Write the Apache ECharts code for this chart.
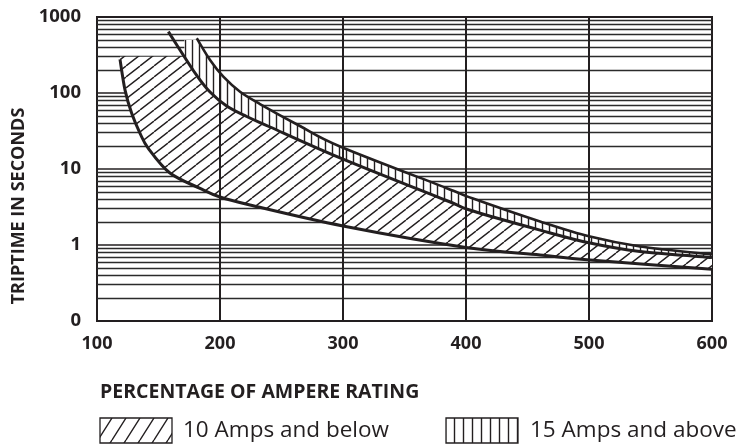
<!DOCTYPE html>
<html><head><meta charset="utf-8">
<script src="https://cdn.jsdelivr.net/npm/echarts@6/dist/echarts.min.js"></script>
<style>html,body{margin:0;padding:0;background:#fff}#c{width:743px;height:447px}</style>
</head><body><div id="c"></div>
<script>
// ---- data ----
const xTicks = [100, 200, 300, 400, 500, 600];
const xGridLines = [200, 300, 400, 500];
const yMin = 0.1, yMax = 1000;
const yTickLabels = { '0.1': '0', '1': '1', '10': '10', '100': '100', '1000': '1000' };
// lower boundary of the 10 A band  [% of rating, seconds]
const lowerCurve = [[118.7,277],[122.8,109],[128.2,54],[135,29.5],[141.7,18.7],[159.3,8.85],[183.7,5.57],[200,4.28],[224.4,3.36],[300,1.78],[400,0.93],[460.2,0.74],[500.8,0.635],[600,0.48]];
// middle curve (upper edge of 10 A band / lower edge of 15 A band)
const middleCurve = [[158,641],[171,300],[181.1,170],[191.9,103],[205.4,67.5],[221.7,49.1],[240.7,35.7],[297.6,14.0],[383,3.91],[405.7,2.80],[460.2,1.57],[500.8,1.06],[541.5,0.82],[600,0.685]];
// upper curve (upper edge of 15 A band)
const upperCurve = [[181.1,525],[191.9,272],[202.7,164],[216.3,104],[232.5,71.6],[265,36.8],[297.6,19.8],[382.9,5.71],[405.7,4.09],[460.2,2.04],[500.8,1.29],[541.5,0.955],[600,0.75]];
const cap10 = 300;   // top of hatched 10 A band (s)
const cap15 = 500;   // top of hatched 15 A band (s)
const legendNames = ['10 Amps and below', '15 Amps and above'];
const xTitle = 'PERCENTAGE OF AMPERE RATING';
const yTitle = 'TRIPTIME IN SECONDS';

const INK = '#231f20';
function makeTile(w, h, draw) {
  const c = document.createElement('canvas');
  c.width = w; c.height = h;
  const g = c.getContext('2d');
  g.fillStyle = '#fff'; g.fillRect(0, 0, w, h);
  g.strokeStyle = INK; g.lineWidth = 1.4;
  draw(g, w, h);
  return c;
}
function diagTile(w, h) {
  return makeTile(w, h, (g, w, h) => {
    g.beginPath();
    for (let k = -1; k <= 1; k++) { g.moveTo(k * w, h); g.lineTo(k * w + w, 0); }
    g.stroke();
  });
}
function vertTile(w) {
  return makeTile(w, 4, (g, w, h) => { g.beginPath(); g.moveTo(w / 2, 0); g.lineTo(w / 2, h); g.stroke(); });
}
const pat10 = { image: diagTile(14, 11), repeat: 'repeat' };
const pat15 = { image: vertTile(7), repeat: 'repeat' };
const legPat10 = { image: diagTile(14, 22), repeat: 'repeat' };
const legPat15 = { image: vertTile(9), repeat: 'repeat' };

function spline(pts) {
  let d = '';
  for (let i = 0; i < pts.length - 1; i++) {
    const p0 = pts[i - 1] || pts[i], p1 = pts[i], p2 = pts[i + 1], p3 = pts[i + 2] || p2;
    const c1 = [p1[0] + (p2[0] - p0[0]) / 6, p1[1] + (p2[1] - p0[1]) / 6];
    const c2 = [p2[0] - (p3[0] - p1[0]) / 6, p2[1] - (p3[1] - p1[1]) / 6];
    d += ' C' + c1[0] + ',' + c1[1] + ' ' + c2[0] + ',' + c2[1] + ' ' + p2[0] + ',' + p2[1];
  }
  return d;
}
const P = p => p[0] + ',' + p[1];

function renderBands(params, api) {
  const L = lowerCurve.map(p => api.coord(p));
  const A = middleCurve.map(p => api.coord(p));
  const B = upperCurve.map(p => api.coord(p));
  const capIdx = middleCurve.findIndex(p => p[1] === cap10);
  const Arev = A.slice(capIdx).reverse();
  const d10 = 'M' + P(api.coord([lowerCurve[0][0], cap10])) + ' L' + P(L[0]) + spline(L) +
              ' L' + P(Arev[0]) + spline(Arev) + ' Z';
  const d15 = 'M' + P(api.coord([middleCurve[capIdx][0], cap15])) + ' L' + P(api.coord([upperCurve[0][0], cap15])) +
              ' L' + P(B[0]) + spline(B) + ' L' + P(Arev[0]) + spline(Arev) + ' Z';
  const curve = (pts, w) => ({ type: 'path', shape: { pathData: 'M' + P(pts[0]) + spline(pts) },
                               style: { fill: null, stroke: INK, lineWidth: w } });
  return {
    type: 'group',
    children: [
      { type: 'path', shape: { pathData: d10 }, style: { fill: pat10, stroke: null } },
      { type: 'path', shape: { pathData: d15 }, style: { fill: pat15, stroke: null } },
      curve(L, 3), curve(A, 3), curve(B, 2.6)
    ]
  };
}

const chart = echarts.init(document.getElementById('c'), null, { renderer: 'canvas' });
const font = '"Open Sans", "Noto Sans", sans-serif';
chart.setOption({
  animation: false,
  backgroundColor: '#fff',
  grid: { left: 97, right: 31, top: 17, bottom: 126, show: true, borderColor: INK, borderWidth: 2, backgroundColor: 'transparent' },
  xAxis: {
    type: 'value', min: xTicks[0], max: xTicks[xTicks.length - 1], interval: 100,
    axisLine: { show: false }, axisTick: { show: false }, splitLine: { show: false },
    axisLabel: { color: INK, fontFamily: font, fontWeight: 'bold', fontSize: 18, margin: 14,
                 formatter: v => xTicks.indexOf(v) >= 0 ? String(v) : '' }
  },
  yAxis: {
    type: 'log', logBase: 10, min: yMin, max: yMax,
    axisLine: { show: false }, axisTick: { show: false },
    axisLabel: { color: INK, fontFamily: font, fontWeight: 'bold', fontSize: 18.5, margin: 16,
                 formatter: v => yTickLabels[String(v)] !== undefined ? yTickLabels[String(v)] : '' },
    splitLine: { show: true, lineStyle: { color: INK, width: 1.6 } },
    minorTick: { show: false, splitNumber: 9 },
    minorSplitLine: { show: true, lineStyle: { color: '#2b2b2b', width: 1.4 } }
  },
  series: [
    { type: 'custom', coordinateSystem: 'cartesian2d', data: [0], renderItem: renderBands, silent: true, z: 3 },
    { type: 'line', data: [], silent: true, z: 6,
      markLine: { silent: true, symbol: 'none', label: { show: false }, animation: false,
                  lineStyle: { color: INK, width: 2, type: 'solid' },
                  data: xGridLines.map(v => ({ xAxis: v })) } }
  ],
  graphic: [
    { type: 'text', x: 19, y: 206, rotation: Math.PI / 2,
      style: { text: yTitle, font: 'bold 18px ' + font, fill: INK, align: 'center', verticalAlign: 'middle' } },
    { type: 'text', x: 100, y: 392,
      style: { text: xTitle, font: 'bold 19.5px ' + font, fill: INK, align: 'left', verticalAlign: 'middle' } },
    { type: 'rect', shape: { x: 100, y: 418, width: 72, height: 25 },
      style: { fill: legPat10, stroke: INK, lineWidth: 1.3 } },
    { type: 'text', x: 183, y: 431,
      style: { text: legendNames[0], font: '22.5px ' + font, fill: INK, align: 'left', verticalAlign: 'middle' } },
    { type: 'rect', shape: { x: 446, y: 418, width: 72, height: 25 },
      style: { fill: legPat15, stroke: INK, lineWidth: 1.3 } },
    { type: 'text', x: 530, y: 431,
      style: { text: legendNames[1], font: '22.5px ' + font, fill: INK, align: 'left', verticalAlign: 'middle' } }
  ]
});
</script></body></html>
